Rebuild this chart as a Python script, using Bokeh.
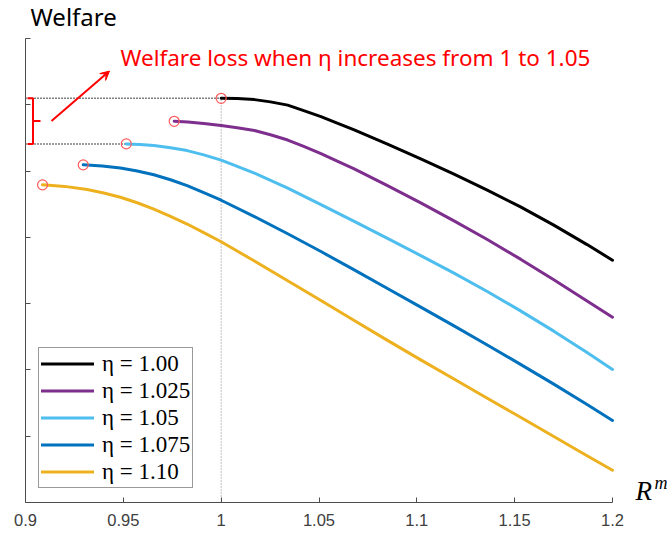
from bokeh.plotting import figure
from bokeh.models import Label, Arrow, VeeHead, FixedTicker, Range1d
from bokeh.embed import file_html
from bokeh.resources import INLINE

# ---- data ----
eta_labels = ["η = 1.00", "η = 1.025", "η = 1.05", "η = 1.075", "η = 1.10"]
colors = ["#000000", "#7E2F8E", "#4DBEEE", "#0072BD", "#EDB120"]

x_eta100 = [1.0, 1.0082, 1.017, 1.0252, 1.034, 1.0422, 1.051, 1.0593, 1.068, 1.085, 1.102, 1.119,
            1.136, 1.153, 1.170, 1.187, 1.2]
w_eta100 = [6.098, 6.094, 6.078, 6.044, 5.995, 5.913, 5.822, 5.724, 5.621, 5.406, 5.184, 4.953,
            4.712, 4.460, 4.184, 3.891, 3.655]

x_eta1025 = [0.976, 0.983, 0.9911, 1.0, 1.0082, 1.017, 1.0252, 1.034, 1.0422, 1.051, 1.0593, 1.068,
             1.085, 1.102, 1.119, 1.136, 1.153, 1.170, 1.187, 1.2]
w_eta1025 = [5.751, 5.742, 5.719, 5.686, 5.652, 5.611, 5.548, 5.468, 5.371, 5.264, 5.151, 5.033,
             4.781, 4.520, 4.249, 3.967, 3.671, 3.359, 3.039, 2.795]

x_eta105 = [0.9515, 0.9586, 0.9656, 0.9741, 0.9826, 0.9911, 1.0, 1.0082, 1.017, 1.034, 1.051, 1.068,
            1.085, 1.102, 1.119, 1.136, 1.153, 1.170, 1.187, 1.2]
w_eta105 = [5.410, 5.401, 5.385, 5.351, 5.309, 5.244, 5.166, 5.072, 4.970, 4.744, 4.495, 4.241,
            3.985, 3.725, 3.460, 3.183, 2.891, 2.585, 2.262, 2.006]

x_eta1075 = [0.9295, 0.9392, 0.9485, 0.9571, 0.9656, 0.9741, 0.9826, 0.9911, 1.0, 1.017, 1.034, 1.051,
             1.068, 1.085, 1.102, 1.119, 1.136, 1.153, 1.170, 1.187, 1.2]
w_eta1075 = [5.094, 5.078, 5.045, 5.000, 4.944, 4.869, 4.781, 4.676, 4.560, 4.314, 4.054, 3.786,
             3.510, 3.229, 2.947, 2.664, 2.377, 2.084, 1.786, 1.478, 1.237]

x_eta110 = [0.9087, 0.92, 0.9315, 0.94, 0.9485, 0.9571, 0.9656, 0.9741, 0.9826, 0.9911, 1.0, 1.017,
            1.034, 1.051, 1.068, 1.085, 1.102, 1.119, 1.136, 1.153, 1.170, 1.187, 1.2]
w_eta110 = [4.792, 4.769, 4.721, 4.668, 4.605, 4.522, 4.427, 4.318, 4.201, 4.072, 3.934, 3.643,
            3.345, 3.047, 2.747, 2.446, 2.152, 1.863, 1.573, 1.285, 0.995, 0.706, 0.486]

x_ticks = [0.9, 0.95, 1.0, 1.05, 1.1, 1.15, 1.2]
x_tick_labels = ["0.9", "0.95", "1", "1.05", "1.1", "1.15", "1.2"]
y_ticks = [0, 1, 2, 3, 4, 5, 6, 7]

series_x = [x_eta100, x_eta1025, x_eta105, x_eta1075, x_eta110]
series_w = [w_eta100, w_eta1025, w_eta105, w_eta1075, w_eta110]

X0, X1, Y0, Y1 = 0.9, 1.2, 0, 7
AW, AH = 587, 464            # pixel size of the axes box
EXTRA_R, EXTRA_T = 55, 38    # room inside the frame for outside texts
dx = (X1 - X0) / AW
dy = (Y1 - Y0) / AH

p = figure(frame_width=AW + EXTRA_R, frame_height=AH + EXTRA_T,
           x_range=Range1d(X0, X1 + EXTRA_R * dx), y_range=Range1d(Y0, Y1 + EXTRA_T * dy),
           output_backend="svg", toolbar_location=None,
           min_border_left=25, min_border_right=0,
           min_border_top=0, min_border_bottom=30)
p.outline_line_color = None
p.xgrid.visible = False
p.ygrid.visible = False
p.background_fill_color = "white"

axis_col = "#4d4d4d"
for ax in (p.xaxis[0], p.yaxis[0]):
    ax.axis_line_color = axis_col
    ax.major_tick_line_color = axis_col
    ax.major_tick_in = 5
    ax.major_tick_out = 0
    ax.minor_tick_line_color = None

p.xaxis.bounds = (X0, X1)
p.yaxis.bounds = (Y0, Y1)

p.xaxis.ticker = FixedTicker(ticks=x_ticks)
p.xaxis.major_label_overrides = {t: l for t, l in zip(x_ticks, x_tick_labels)}
p.xaxis.major_label_text_font = "Liberation Sans"
p.xaxis.major_label_text_font_size = "16.5px"
p.xaxis.major_label_text_color = "#404040"
p.xaxis.major_label_standoff = 11

p.yaxis.ticker = FixedTicker(ticks=y_ticks)
p.yaxis.major_label_overrides = {t: "" for t in y_ticks}
p.yaxis.major_label_standoff = 0

# reference dotted lines
x_ref = x_eta100[0]
p.line([x_ref, x_ref], [Y0, w_eta100[0]], line_color="#808080", line_dash="1 2", line_width=1)
p.line([X0, x_eta100[0]], [w_eta100[0], w_eta100[0]], line_color="black", line_dash="1 2", line_width=1.5)
p.line([X0, x_eta105[0]], [w_eta105[0], w_eta105[0]], line_color="black", line_dash="1 2", line_width=1.5)

# curves
for xs, ws, c, lab in zip(series_x, series_w, colors, eta_labels):
    p.line(xs, ws, line_color=c, line_width=3, legend_label=lab, line_join="round", line_cap="round")

# start markers
p.scatter([s[0] for s in series_x], [s[0] for s in series_w], marker="circle", size=10,
          fill_color=None, line_color="#ff5a5a", line_width=1.2)

# bracket
top, bot = w_eta100[0], w_eta105[0]
bx = X0 + 7.5 * dx
p.line([X0 + 2 * dx, bx, bx, X0 + 2 * dx], [top, top, bot, bot], line_color="red", line_width=2)
mid = (top + bot) / 2
p.line([bx, X0 + 15 * dx], [mid, mid], line_color="red", line_width=2)

# arrow
p.add_layout(Arrow(x_start=X0 + 26 * dx, y_start=mid, x_end=X0 + 84 * dx, y_end=mid + 50 * dy,
                   line_color="red", line_width=2,
                   end=VeeHead(size=9, fill_color="red", line_color="red", line_width=1)))

# annotation texts (y given as pixel distance above the x axis line)
p.add_layout(Label(x=X0 + 95 * dx, y=Y0 + 445 * dy, text="Welfare loss when η increases from 1 to 1.05",
                   text_color="red", text_font="Noto Sans", text_font_size="22.5px",
                   text_baseline="middle"))
p.add_layout(Label(x=X0 + 5 * dx, y=Y0 + 486 * dy, text="Welfare",
                   text_color="black", text_font="Noto Sans", text_font_size="24px",
                   text_baseline="middle"))
p.add_layout(Label(x=X1 + 23 * dx, y=Y0 + 12 * dy, text="R",
                   text_color="black", text_font="Liberation Serif", text_font_style="italic",
                   text_font_size="27px", text_baseline="middle"))
p.add_layout(Label(x=X1 + 42 * dx, y=Y0 + 20 * dy, text="m",
                   text_color="black", text_font="Liberation Serif", text_font_style="italic",
                   text_font_size="18px", text_baseline="middle"))

# legend
lg = p.legend[0]
lg.location = (13, 14)
lg.border_line_color = "#333333"
lg.border_line_width = 1
lg.background_fill_color = "white"
lg.background_fill_alpha = 1
lg.padding = 2
lg.spacing = 0
lg.margin = 0
lg.glyph_width = 53
lg.glyph_height = 27
lg.label_height = 27
lg.label_standoff = 8
lg.label_text_font = "Liberation Serif"
lg.label_text_font_size = "23px"
lg.label_text_color = "black"

open("out.html", "w").write(file_html(p, INLINE))
